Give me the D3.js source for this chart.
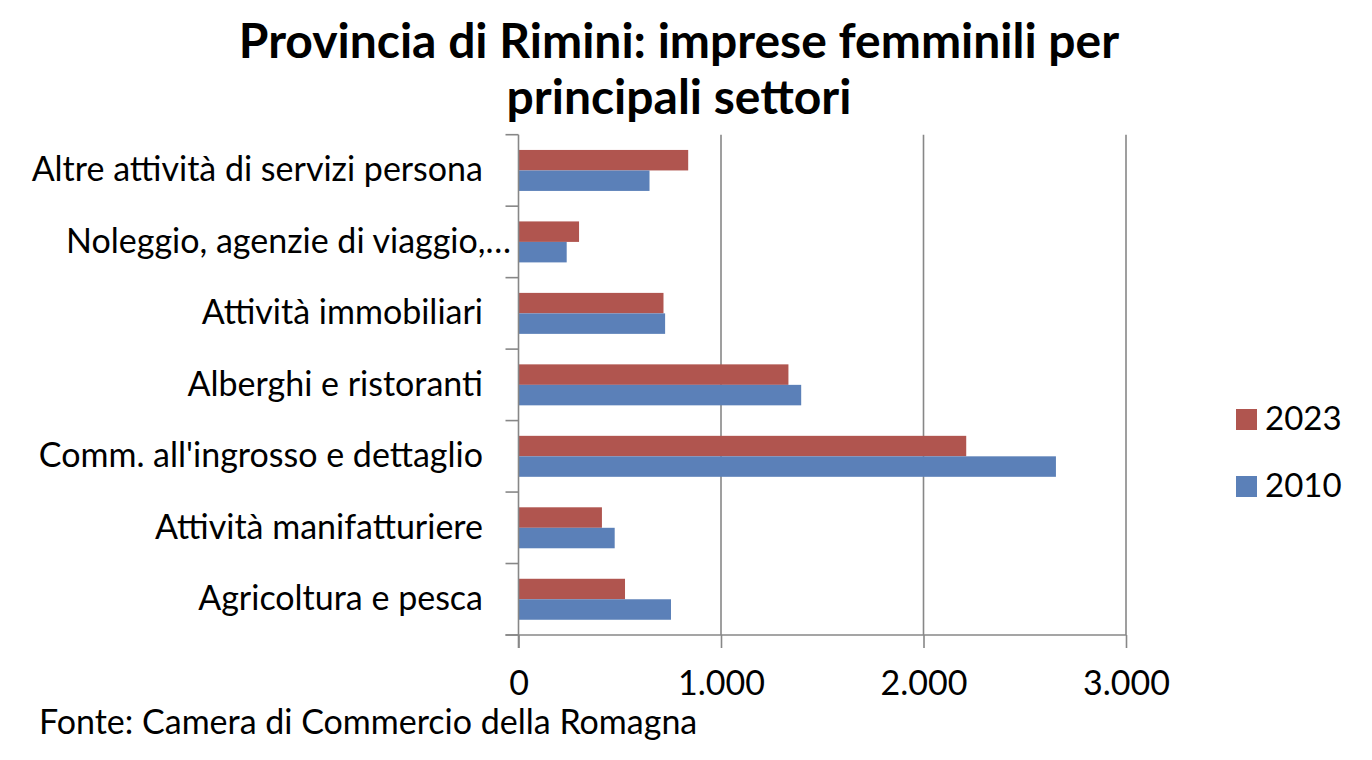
<!DOCTYPE html>
<html>
<head>
<meta charset="utf-8">
<script src="https://cdn.jsdelivr.net/npm/d3@7"></script>
<style>
  html, body { margin: 0; padding: 0; background: #fff; }
  svg { display: block; }
  text { font-family: Lato, "Open Sans", sans-serif; fill: #000; }
</style>
</head>
<body>
<svg id="chart" width="1372" height="760"></svg>
<script>
// ---- data ----
const categories = [
  "Altre attività di servizi persona",
  "Noleggio, agenzie di viaggio,…",
  "Attività immobiliari",
  "Alberghi e ristoranti",
  "Comm. all'ingrosso e dettaglio",
  "Attività manifatturiere",
  "Agricoltura e pesca"
];
const series = ["2023", "2010"];
const values2023 = [838, 299, 716, 1333, 2211, 412, 526];
const values2010 = [647, 238, 724, 1396, 2654, 475, 753];
const xTicks = [0, 1000, 2000, 3000];
const xTickLabels = ["0", "1.000", "2.000", "3.000"];
const titleLines = ["Provincia di Rimini: imprese femminili per", "principali settori"];
const sourceText = "Fonte: Camera di Commercio della Romagna";

// ---- layout ----
const W = 1372, H = 760;
const plot = { left: 518.5, right: 1126, top: 134.7, bottom: 635 };
const colors = { "2023": "#B0554F", "2010": "#5B80B8" };
const axisColor = "#878787";

const svg = d3.select("#chart");

const x = d3.scaleLinear().domain([0, 3000]).range([plot.left, plot.right]);
const y = d3.scaleBand().domain(categories).range([plot.top, plot.bottom]).paddingInner(0).paddingOuter(0);
const ySub = d3.scaleBand().domain(series).range([0, y.bandwidth()]).paddingInner(0).paddingOuter(0.744);

// gridlines (vertical)
svg.append("g").selectAll("line").data(xTicks.slice(1)).join("line")
  .attr("x1", d => x(d)).attr("x2", d => x(d))
  .attr("y1", plot.top).attr("y2", plot.bottom)
  .attr("stroke", axisColor).attr("stroke-width", 1.6);

// bars
const rows = categories.map((c, i) => ({ cat: c, "2023": values2023[i], "2010": values2010[i] }));
const gBars = svg.append("g");
rows.forEach(r => {
  series.forEach(s => {
    gBars.append("rect")
      .attr("x", x(0))
      .attr("y", y(r.cat) + ySub(s))
      .attr("width", x(r[s]) - x(0))
      .attr("height", ySub.bandwidth())
      .attr("fill", colors[s]);
  });
});

// bottom axis
const tickLen = 13;
const gx = svg.append("g").attr("transform", `translate(0,${plot.bottom})`)
  .call(d3.axisBottom(x).tickValues(xTicks).tickFormat((d, i) => xTickLabels[i]).tickSize(tickLen).tickPadding(23));
gx.select(".domain").remove();
gx.selectAll(".tick line").attr("stroke", axisColor).attr("stroke-width", 1.6);
gx.selectAll(".tick text").attr("font-size", 34).attr("font-family", "Lato, sans-serif").attr("fill", "#000");
svg.append("line")
  .attr("x1", plot.left - tickLen).attr("x2", plot.right)
  .attr("y1", plot.bottom).attr("y2", plot.bottom)
  .attr("stroke", axisColor).attr("stroke-width", 1.6);

// left axis
const boundaries = categories.map(c => y(c)).concat([plot.bottom]);
svg.append("line")
  .attr("x1", plot.left).attr("x2", plot.left)
  .attr("y1", plot.top).attr("y2", plot.bottom + tickLen)
  .attr("stroke", axisColor).attr("stroke-width", 1.6);
svg.append("g").selectAll("line").data(boundaries).join("line")
  .attr("x1", plot.left - tickLen).attr("x2", plot.left)
  .attr("y1", d => d).attr("y2", d => d)
  .attr("stroke", axisColor).attr("stroke-width", 1.6);

// category labels
svg.append("g").selectAll("text").data(categories).join("text")
  .attr("x", d => d.endsWith("…") ? 511 : 483)
  .attr("y", d => y(d) + y.bandwidth() / 2 + 11)
  .attr("text-anchor", "end")
  .attr("font-size", 34)
  .text(d => d);

// title
svg.append("g").selectAll("text").data(titleLines).join("text")
  .attr("x", 679)
  .attr("y", (d, i) => 58 + i * 56)
  .attr("text-anchor", "middle")
  .attr("font-size", 48)
  .attr("font-weight", "bold")
  .text(d => d);

// legend (2023 on top)
const legend = svg.append("g");
series.forEach((s, i) => {
  const ly = 409 + i * 67;
  legend.append("rect").attr("x", 1236).attr("y", ly).attr("width", 21).attr("height", 21).attr("fill", colors[s]);
  legend.append("text").attr("x", 1265).attr("y", ly + 21).attr("font-size", 33).text(s);
});

// source
svg.append("text").attr("x", 39).attr("y", 734).attr("font-size", 34).text(sourceText);
</script>
</body>
</html>
